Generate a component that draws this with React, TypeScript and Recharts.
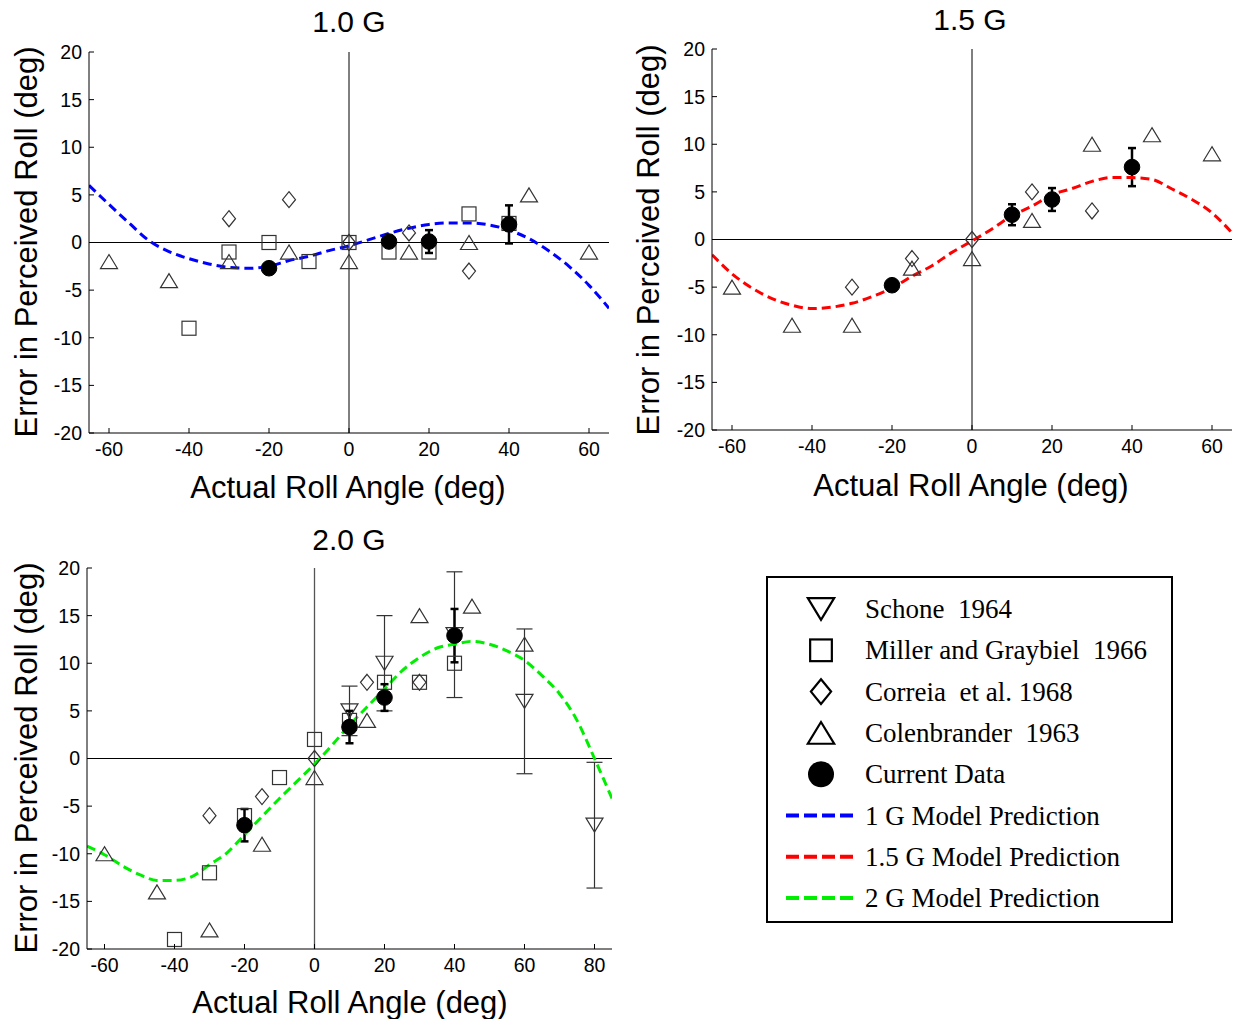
import React from 'react';
import { ComposedChart, Scatter, Line, XAxis, YAxis, ReferenceLine, ErrorBar } from 'recharts';

type P = { x: number; y: number; e?: number };

// ---------- 1.0 G ----------
const g1Miller: P[] = [
  { x: -40, y: -9 }, { x: -30, y: -1 }, { x: -20, y: 0 }, { x: -10, y: -2 }, { x: 0, y: 0 },
  { x: 10, y: -1 }, { x: 20, y: -1 }, { x: 30, y: 3 }, { x: 40, y: 2 },
];
const g1Correia: P[] = [
  { x: -30, y: 2.5 }, { x: -15, y: 4.5 }, { x: 0, y: 0 }, { x: 15, y: 1 }, { x: 30, y: -3 },
];
const g1Colenbrander: P[] = [
  { x: -60, y: -2 }, { x: -45, y: -4 }, { x: -30, y: -2 }, { x: -15, y: -1 }, { x: 0, y: -2 },
  { x: 15, y: -1 }, { x: 30, y: 0 }, { x: 45, y: 5 }, { x: 60, y: -1 },
];
const g1Current: P[] = [
  { x: -20, y: -2.7, e: 0.4 }, { x: 10, y: 0.1, e: 0.5 }, { x: 20, y: 0.1, e: 1.2 }, { x: 40, y: 1.9, e: 2.0 },
];
const curveAngles1 = [-65, -60, -55, -50, -45, -40, -35, -30, -25, -20, -15, -10, -5, 0, 5, 10, 15, 20, 25, 30, 35, 40, 45, 50, 55, 60, 65];
const curveErr1 = [6.0, 4.0, 2.05, 0.2, -0.95, -1.7, -2.25, -2.6, -2.7, -2.5, -1.9, -1.45, -0.85, -0.35, 0.3, 0.95, 1.5, 1.9, 2.05, 2.05, 1.85, 1.3, 0.4, -0.9, -2.5, -4.5, -6.9];

// ---------- 1.5 G ----------
const g15Correia: P[] = [
  { x: -30, y: -5 }, { x: -15, y: -2 }, { x: 0, y: 0 }, { x: 15, y: 5 }, { x: 30, y: 3 },
];
const g15Colenbrander: P[] = [
  { x: -60, y: -5 }, { x: -45, y: -9 }, { x: -30, y: -9 }, { x: -15, y: -3 }, { x: 0, y: -2 },
  { x: 15, y: 2 }, { x: 30, y: 10 }, { x: 45, y: 11 }, { x: 60, y: 9 },
];
const g15Current: P[] = [
  { x: -20, y: -4.8, e: 0.5 }, { x: 10, y: 2.6, e: 1.1 }, { x: 20, y: 4.2, e: 1.2 }, { x: 40, y: 7.6, e: 2.0 },
];
const curveAngles15 = [-65, -60, -55, -50, -45, -40, -35, -30, -25, -20, -15, -10, -5, 0, 5, 10, 15, 20, 25, 30, 35, 40, 45, 50, 55, 60, 65];
const curveErr15 = [-1.6, -3.6, -5.1, -6.2, -6.9, -7.25, -7.1, -6.7, -6.0, -5.1, -3.85, -2.75, -1.35, -0.15, 1.1, 2.5, 3.5, 4.7, 5.35, 6.1, 6.5, 6.5, 6.3, 5.3, 4.2, 2.8, 0.7];

// ---------- 2.0 G ----------
const g2Schone: P[] = [
  { x: 10, y: 5, e: 2.6 }, { x: 20, y: 10, e: 5 }, { x: 40, y: 13, e: 6.6 }, { x: 60, y: 6, e: 7.6 }, { x: 80, y: -7, e: 6.6 },
];
const g2Miller: P[] = [
  { x: -40, y: -19 }, { x: -30, y: -12 }, { x: -20, y: -6 }, { x: -10, y: -2 }, { x: 0, y: 2 },
  { x: 10, y: 4 }, { x: 20, y: 8 }, { x: 30, y: 8 }, { x: 40, y: 10 },
];
const g2Correia: P[] = [
  { x: -30, y: -6 }, { x: -15, y: -4 }, { x: 0, y: 0 }, { x: 15, y: 8 }, { x: 30, y: 8 },
];
const g2Colenbrander: P[] = [
  { x: -60, y: -10 }, { x: -45, y: -14 }, { x: -30, y: -18 }, { x: -15, y: -9 }, { x: 0, y: -2 },
  { x: 15, y: 4 }, { x: 30, y: 15 }, { x: 45, y: 16 }, { x: 60, y: 12 },
];
const g2Current: P[] = [
  { x: -20, y: -7, e: 1.7 }, { x: 10, y: 3.3, e: 1.7 }, { x: 20, y: 6.4, e: 1.4 }, { x: 40, y: 12.9, e: 2.8 },
];
const curveAngles2 = [-65, -60, -55, -50, -45, -40, -35, -30, -25, -20, -15, -10, -5, 0, 5, 10, 15, 20, 25, 30, 35, 40, 45, 50, 55, 60, 65, 70, 75, 80, 85];
const curveErr2 = [-9.2, -10.1, -11.25, -12.2, -12.8, -12.8, -12.4, -11.15, -9.9, -8.0, -6.1, -4.2, -2.4, -0.6, 1.4, 3.5, 5.4, 7.3, 9.2, 10.6, 11.6, 12.0, 12.3, 12.0, 11.3, 10.3, 8.7, 6.8, 4.0, 0, -4.2];

const yTicks = [-20, -15, -10, -5, 0, 5, 10, 15, 20];
const xTicks1 = [-60, -40, -20, 0, 20, 40, 60];
const xTicks2 = [-60, -40, -20, 0, 20, 40, 60, 80];

const legendItems = [
  { kind: 'down', label: 'Schone  1964' },
  { kind: 'square', label: 'Miller and Graybiel  1966' },
  { kind: 'diamond', label: 'Correia  et al. 1968' },
  { kind: 'up', label: 'Colenbrander  1963' },
  { kind: 'circle', label: 'Current Data' },
  { kind: 'line', color: '#0000ff', label: '1 G Model Prediction' },
  { kind: 'line', color: '#ff0000', label: '1.5 G Model Prediction' },
  { kind: 'line', color: '#00ee00', label: '2 G Model Prediction' },
];

const zip = (xs: number[], ys: number[]) => xs.map((x, i) => ({ x, y: ys[i] }));

const MK = '#333';
const SANS = '"Liberation Sans", Arial, sans-serif';
const TICK_FONT = 19.5;
const X_MARGIN = 9;
const Y_MARGIN = 7;
const TICK_LEN = 5;

function markerPath(kind: string, cx: number, cy: number, s: number) {
  if (kind === 'up') {
    const w = 8.5 * s, h = 7 * s;
    return <polygon points={`${cx},${cy - h} ${cx - w},${cy + h} ${cx + w},${cy + h}`} />;
  }
  if (kind === 'down') {
    const w = 8.5 * s, h = 7 * s;
    return <polygon points={`${cx - w},${cy - h} ${cx + w},${cy - h} ${cx},${cy + h}`} />;
  }
  if (kind === 'square') {
    const a = 7 * s;
    return <rect x={cx - a} y={cy - a} width={2 * a} height={2 * a} />;
  }
  if (kind === 'diamond') {
    const w = 6.5 * s, h = 8 * s;
    return <polygon points={`${cx},${cy - h} ${cx + w},${cy} ${cx},${cy + h} ${cx - w},${cy}`} />;
  }
  return <circle cx={cx} cy={cy} r={7.5 * s} />;
}

const makeShape = (kind: string) => (props: any) => {
  const { cx, cy } = props;
  if (cx == null || cy == null) return <g />;
  if (kind === 'circle') {
    return <circle cx={cx} cy={cy} r={7.8} fill="#000" stroke="#000" />;
  }
  return (
    <g fill="none" stroke={MK} strokeWidth={1.2}>
      {markerPath(kind, cx, cy, 1)}
    </g>
  );
};

// Tick label plus an inward-pointing tick mark (MATLAB style)
const XTick = (props: any) => {
  const { x, y, payload } = props;
  const axisY = y - X_MARGIN;
  return (
    <g>
      <line x1={x} x2={x} y1={axisY} y2={axisY - TICK_LEN} stroke="#000" strokeWidth={1} />
      <text x={x} y={y} dy="0.71em" textAnchor="middle" fill="#000" fontSize={TICK_FONT} fontFamily={SANS}>
        {payload.value}
      </text>
    </g>
  );
};
const YTick = (props: any) => {
  const { x, y, payload } = props;
  const axisX = x + Y_MARGIN;
  return (
    <g>
      <line x1={axisX} x2={axisX + TICK_LEN} y1={y} y2={y} stroke="#000" strokeWidth={1} />
      <text x={x} y={y} dy="0.355em" textAnchor="end" fill="#000" fontSize={TICK_FONT} fontFamily={SANS}>
        {payload.value}
      </text>
    </g>
  );
};

type SeriesDef = { kind: string; data: P[] };

function Panel(props: {
  plotLeft: number; plotTop: number; plotW: number; xDomain: [number, number]; xTicks: number[];
  curve: { x: number; y: number }[]; color: string; series: SeriesDef[]; vColor?: string; vWidth?: number;
}) {
  const { plotLeft, plotTop, plotW, xDomain, xTicks, curve, color, series, vColor = '#000', vWidth = 1 } = props;
  const W = plotW + 100;
  const H = 10 + 381 + 40;
  return (
    <div style={{ position: 'absolute', left: plotLeft - 90, top: plotTop - 10, width: W, height: H }}>
      <ComposedChart width={W} height={H} margin={{ top: 10, right: 10, left: 0, bottom: 0 }}>
        <XAxis
          type="number" dataKey="x" domain={xDomain} ticks={xTicks} allowDataOverflow
          height={40} tickSize={0} tickMargin={X_MARGIN} interval={0}
          axisLine={{ stroke: '#000', strokeWidth: 1 }} tickLine={false}
          tick={<XTick />}
        />
        <YAxis
          type="number" dataKey="y" domain={[-20, 20]} ticks={yTicks} allowDataOverflow
          width={90} tickSize={0} tickMargin={Y_MARGIN} interval={0}
          axisLine={{ stroke: '#000', strokeWidth: 1 }} tickLine={false}
          tick={<YTick />}
        />
        <ReferenceLine x={0} stroke={vColor} strokeWidth={vWidth} />
        <ReferenceLine y={0} stroke="#000" strokeWidth={1} />
        {series.map((s, i) => (
          <Scatter key={i} data={s.data} dataKey="y" isAnimationActive={false} shape={makeShape(s.kind)}>
            {s.kind === 'down' && (
              <ErrorBar dataKey="e" direction="y" width={8} stroke="#333" strokeWidth={1.2} />
            )}
            {s.kind === 'circle' && (
              <ErrorBar dataKey="e" direction="y" width={4} stroke="#000" strokeWidth={2.5} />
            )}
          </Scatter>
        ))}
        <Line
          data={curve} dataKey="y" type="monotone" stroke={color} strokeWidth={3}
          strokeDasharray="9 5" dot={false} activeDot={false} isAnimationActive={false}
        />
      </ComposedChart>
    </div>
  );
}

function Txt({ x, y, size, children, rotate }: { x: number; y: number; size: number; children: React.ReactNode; rotate?: boolean }) {
  return (
    <div
      style={{
        position: 'absolute', left: x, top: y, fontSize: size, fontFamily: SANS, lineHeight: 1,
        whiteSpace: 'nowrap', color: '#000',
        transform: `translate(-50%, -50%)${rotate ? ' rotate(-90deg)' : ''}`,
      }}
    >
      {children}
    </div>
  );
}

function Legend() {
  const rowY = (i: number) => 33 + i * 41.3;
  return (
    <div style={{ position: 'absolute', left: 766, top: 576, width: 407, height: 347 }}>
      <svg width={407} height={347} style={{ position: 'absolute', left: 0, top: 0 }}>
        <rect x={1} y={1} width={405} height={345} fill="#fff" stroke="#000" strokeWidth={2} />
        {legendItems.map((it, i) => {
          const cy = rowY(i);
          if (it.kind === 'line') {
            return <line key={i} x1={20} x2={89} y1={cy} y2={cy} stroke={it.color} strokeWidth={4} strokeDasharray="13 5" />;
          }
          if (it.kind === 'circle') {
            return <circle key={i} cx={55} cy={cy} r={13} fill="#000" />;
          }
          return (
            <g key={i} fill="none" stroke="#000" strokeWidth={2.2}>
              {markerPath(it.kind, 55, cy, 1.55)}
            </g>
          );
        })}
      </svg>
      {legendItems.map((it, i) => (
        <div
          key={i}
          style={{
            position: 'absolute', left: 99, top: rowY(i), transform: 'translateY(-50%)',
            fontFamily: '"Liberation Serif", "Times New Roman", serif', fontSize: 27, lineHeight: 1,
            whiteSpace: 'pre', color: '#000',
          }}
        >
          {it.label}
        </div>
      ))}
    </div>
  );
}

export default function App() {
  return (
    <div style={{ position: 'absolute', left: 0, top: 0, width: 1239, height: 1019, background: '#fff', overflow: 'hidden' }}>
      <Panel
        plotLeft={89} plotTop={52} plotW={520} xDomain={[-65, 65]} xTicks={xTicks1}
        curve={zip(curveAngles1, curveErr1)} color="#0000ff"
        series={[
          { kind: 'square', data: g1Miller },
          { kind: 'diamond', data: g1Correia },
          { kind: 'up', data: g1Colenbrander },
          { kind: 'circle', data: g1Current },
        ]}
      />
      <Panel
        plotLeft={712} plotTop={49} plotW={520} xDomain={[-65, 65]} xTicks={xTicks1}
        curve={zip(curveAngles15, curveErr15)} color="#ff0000"
        series={[
          { kind: 'diamond', data: g15Correia },
          { kind: 'up', data: g15Colenbrander },
          { kind: 'circle', data: g15Current },
        ]}
      />
      <Panel
        plotLeft={87} plotTop={568} plotW={525} xDomain={[-65, 85]} xTicks={xTicks2}
        curve={zip(curveAngles2, curveErr2)} color="#00ee00" vColor="#555" vWidth={1.3}
        series={[
          { kind: 'down', data: g2Schone },
          { kind: 'square', data: g2Miller },
          { kind: 'diamond', data: g2Correia },
          { kind: 'up', data: g2Colenbrander },
          { kind: 'circle', data: g2Current },
        ]}
      />
      <Txt x={349} y={22} size={30}>1.0 G</Txt>
      <Txt x={970} y={20} size={30}>1.5 G</Txt>
      <Txt x={349} y={540} size={30}>2.0 G</Txt>
      <Txt x={348} y={487} size={31}>Actual Roll Angle (deg)</Txt>
      <Txt x={971} y={485} size={31}>Actual Roll Angle (deg)</Txt>
      <Txt x={350} y={1002} size={31}>Actual Roll Angle (deg)</Txt>
      <Txt x={26} y={242} size={31} rotate>Error in Perceived Roll (deg)</Txt>
      <Txt x={648} y={240} size={31} rotate>Error in Perceived Roll (deg)</Txt>
      <Txt x={26} y={758} size={31} rotate>Error in Perceived Roll (deg)</Txt>
      <Legend />
    </div>
  );
}
